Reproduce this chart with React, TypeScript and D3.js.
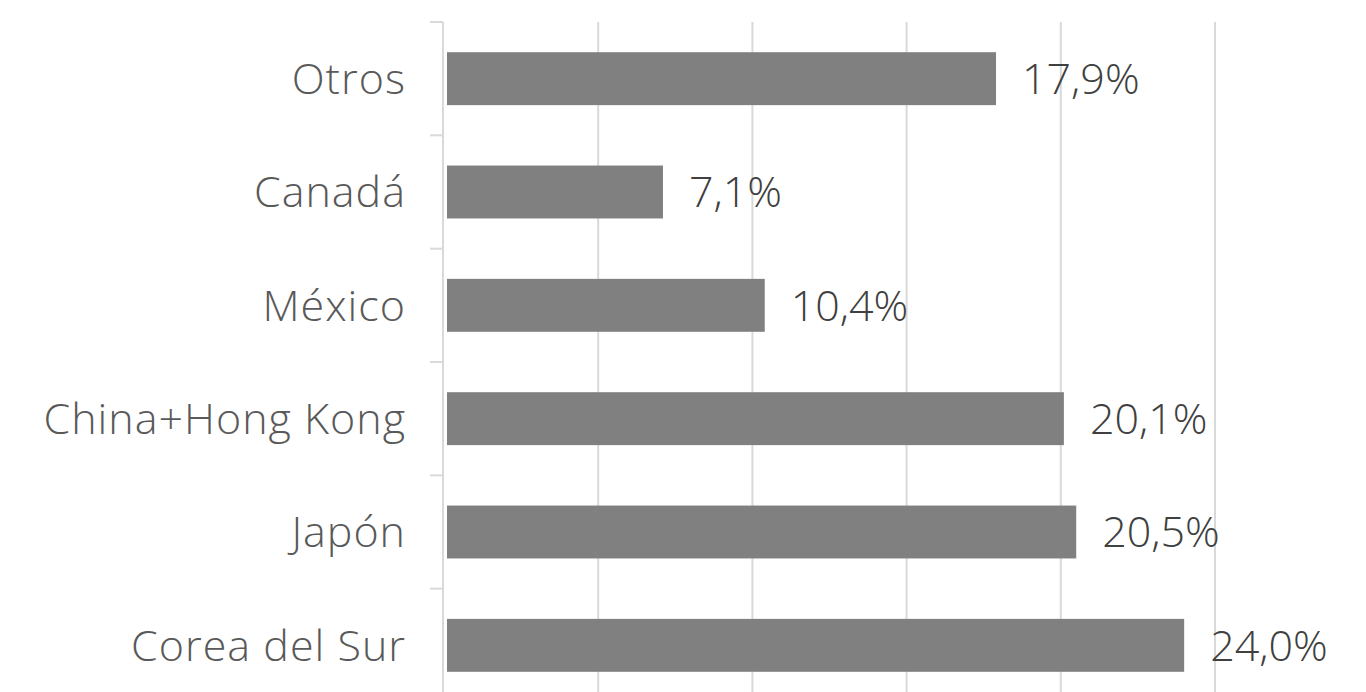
import React, { useEffect, useRef } from 'react';
import * as d3 from 'd3';

// shares by destination, top to bottom as shown
const categories = ['Otros', 'Canadá', 'México', 'China+Hong Kong', 'Japón', 'Corea del Sur'];
const shares = [17.9, 7.1, 10.4, 20.1, 20.5, 24.0];
const gridTicks = [0, 5, 10, 15, 20, 25];

export default function App() {
  const ref = useRef<SVGSVGElement>(null);

  useEffect(() => {
    const width = 1366, height = 692;
    const margin = { top: 22, right: 151, bottom: -10, left: 444 };
    const svg = d3.select(ref.current);
    svg.selectAll('*').remove();

    const x = d3.scaleLinear()
      .domain([0, 25])
      .range([margin.left, width - margin.right]);

    const gap = 0.533;
    const y = d3.scaleBand<string>()
      .domain(categories)
      .range([margin.top, height - margin.bottom])
      .paddingInner(gap)
      .paddingOuter(gap / 2);

    const data = categories.map((c, i) => ({ name: c, value: shares[i] }));
    const step = y.step();

    // vertical gridlines
    svg.append('g')
      .selectAll('line').data(gridTicks.slice(1)).enter().append('line')
      .attr('x1', d => x(d)).attr('x2', d => x(d))
      .attr('y1', margin.top).attr('y2', height - margin.bottom)
      .attr('stroke', '#d9d9d9').attr('stroke-width', 2);

    // category axis with tick marks at band boundaries
    const axis = svg.append('g');
    axis.append('line')
      .attr('x1', x(0) - 1).attr('x2', x(0) - 1)
      .attr('y1', margin.top).attr('y2', height - margin.bottom)
      .attr('stroke', '#d9d9d9').attr('stroke-width', 2);
    axis.selectAll('line.tick')
      .data(d3.range(categories.length + 1)).enter().append('line')
      .attr('class', 'tick')
      .attr('x1', x(0) - 14).attr('x2', x(0) - 1)
      .attr('y1', i => margin.top + i * step).attr('y2', i => margin.top + i * step)
      .attr('stroke', '#d9d9d9').attr('stroke-width', 2);

    svg.append('g')
      .attr('fill', '#808080')
      .selectAll('rect').data(data).enter().append('rect')
      .attr('x', x(0) + 3)
      .attr('y', d => y(d.name)!)
      .attr('width', d => x(d.value) - x(0) - 3)
      .attr('height', y.bandwidth());

    const font = '"Open Sans", sans-serif';

    svg.append('g')
      .selectAll('text').data(data).enter().append('text')
      .attr('x', x(0) - 38)
      .attr('y', d => y(d.name)! + y.bandwidth() / 2)
      .attr('dy', '0.36em')
      .attr('text-anchor', 'end')
      .attr('font-family', font)
      .attr('font-weight', 300)
      .attr('font-size', 43)
      .attr('letter-spacing', 1)
      .attr('fill', '#595959')
      .text(d => d.name);

    svg.append('g')
      .selectAll('text').data(data).enter().append('text')
      .attr('x', d => x(d.value) + 26)
      .attr('y', d => y(d.name)! + y.bandwidth() / 2)
      .attr('dy', '0.36em')
      .attr('font-family', font)
      .attr('font-weight', 300)
      .attr('font-size', 43)
      .attr('fill', '#404040')
      .text(d => d.value.toFixed(1).replace('.', ',') + '%');
  }, []);

  return (
    <svg ref={ref} width={1366} height={692}
      style={{ position: 'absolute', left: 0, top: 0, display: 'block', background: '#fff' }} />
  );
}
